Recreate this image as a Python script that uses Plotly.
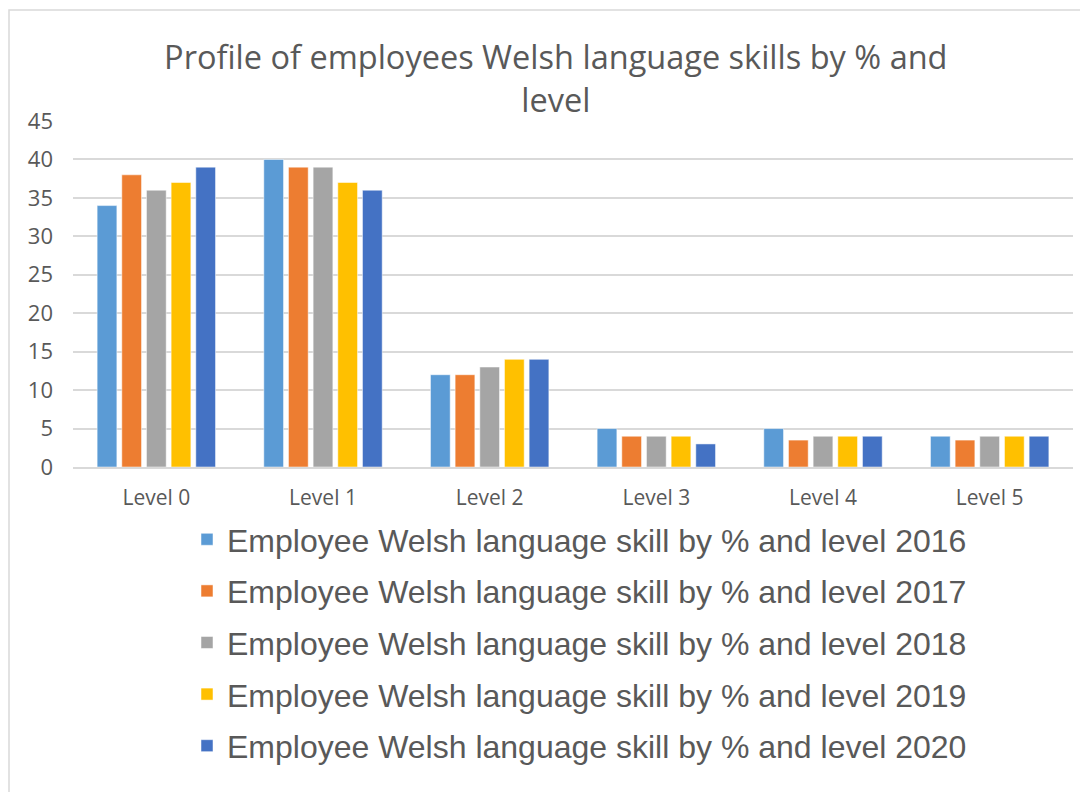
import plotly.graph_objects as go

categories = ["Level 0", "Level 1", "Level 2", "Level 3", "Level 4", "Level 5"]
years = ["2016", "2017", "2018", "2019", "2020"]
v2016 = [34, 40, 12, 5, 5, 4]
v2017 = [38, 39, 12, 4, 3.5, 3.5]
v2018 = [36, 39, 13, 4, 4, 4]
v2019 = [37, 37, 14, 4, 4, 4]
v2020 = [39, 36, 14, 3, 4, 4]
series = [v2016, v2017, v2018, v2019, v2020]
colors = ["#5B9BD5", "#ED7D31", "#A5A5A5", "#FFC000", "#4472C4"]
y_ticks = [0, 5, 10, 15, 20, 25, 30, 35, 40, 45]

fig = go.Figure()
for yr, vals, col in zip(years, series, colors):
    fig.add_trace(go.Bar(
        x=categories, y=vals,
        name="Employee Welsh language skill by % and level " + yr,
        marker=dict(color=col, line=dict(color="white", width=0.5)),
        legendgroup=yr,
    ))

fig.update_layout(
    width=1088, height=792,
    paper_bgcolor="white", plot_bgcolor="white",
    margin=dict(l=65, r=23, t=113, b=333, autoexpand=False),
    barmode="group", bargap=0.26, bargroupgap=0.2,
    title=dict(
        text="Profile of employees Welsh language skills by % and<br>level",
        x=0.5035, xanchor="center", y=0.9224, yanchor="top",
        font=dict(family="Open Sans", size=32.5, color="#595959"),
    ),
    xaxis=dict(
        showgrid=False, showline=True, linecolor="#D9D9D9", linewidth=1.5,
        tickfont=dict(family="Open Sans", size=21, color="#595959"),
        ticks="", ticklabelstandoff=11,
    ),
    yaxis=dict(
        range=[0, 45], tickvals=y_ticks, showgrid=True, gridcolor="#D9D9D9",
        gridwidth=1.5, zeroline=False, showline=False,
        tickfont=dict(family="Open Sans", size=22, color="#595959"),
        ticklabelstandoff=19,
    ),
    legend=dict(
        orientation="v", x=0.114, xanchor="left", y=-0.13, yanchor="top",
        font=dict(family="Liberation Sans", size=32, color="#595959"),
        tracegroupgap=7, itemwidth=30,
    ),
    showlegend=True,
    shapes=[dict(
        type="rect", xref="paper", yref="paper",
        x0=-0.064, x1=1.2, y0=-1.5, y1=1.321,
        line=dict(color="#D9D9D9", width=1.5), fillcolor="rgba(0,0,0,0)",
        layer="below",
    )],
)

fig.write_html("out.html")
